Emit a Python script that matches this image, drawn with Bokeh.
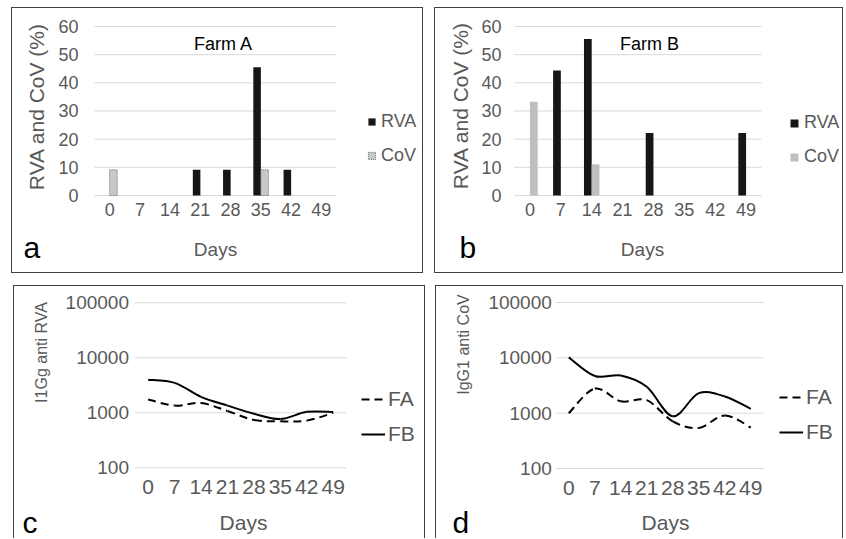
import math
import numpy as np
from bokeh.plotting import figure
from bokeh.layouts import row, column
from bokeh.models import (Range1d, FixedTicker, Legend, LegendItem, Label,
                          ColumnDataSource, NumeralTickFormatter)
from bokeh.embed import file_html
from bokeh.resources import INLINE

# ---------------- data ----------------
days = ["0", "7", "14", "21", "28", "35", "42", "49"]
pct_ticks = [0, 10, 20, 30, 40, 50, 60]
log_ticks = [100, 1000, 10000, 100000]

farmA_rva = [0, 0, 0, 9.1, 9.1, 45.5, 9.1, 0]
farmA_cov = [9.1, 0, 0, 0, 0, 9.1, 0, 0]
farmB_rva = [0, 44.4, 55.6, 0, 22.2, 0, 0, 22.2]
farmB_cov = [33.3, 0, 11.1, 0, 0, 0, 0, 0]

igg_rva_fa = [1750, 1350, 1500, 1080, 740, 700, 720, 1000]
igg_rva_fb = [4000, 3500, 1950, 1350, 960, 770, 1040, 1030]
igg_cov_fa = [1000, 2780, 1640, 1720, 710, 540, 910, 550]
igg_cov_fb = [10200, 4700, 4800, 3000, 880, 2300, 2000, 1200]

FONT = "Liberation Sans"
GREY = "#595959"
GRID = "#D9D9D9"
BORDER = "#404040"


def make_fig(w, h, xr, yr, log, margin, bottom_panel):
    kw = dict(width=w, height=h, output_backend="svg", toolbar_location=None,
              min_border_left=0, min_border_right=0, min_border_top=0,
              min_border_bottom=0, x_range=Range1d(*xr))
    if log:
        kw["y_axis_type"] = "log"
        kw["y_range"] = Range1d(10 ** yr[0], 10 ** yr[1])
    else:
        kw["y_range"] = Range1d(*yr)
    p = figure(**kw)
    p.margin = margin
    if bottom_panel:
        p.styles = {"border-left": f"1px solid {BORDER}",
                    "border-top": f"1px solid {BORDER}",
                    "border-right": f"1px solid {BORDER}",
                    "box-sizing": "border-box"}
    else:
        p.styles = {"border": f"1px solid {BORDER}", "box-sizing": "border-box"}
    p.outline_line_color = None
    p.xgrid.visible = False
    p.ygrid.visible = False
    ticks = log_ticks if log else pct_ticks
    # horizontal gridlines limited to the plot area
    p.segment(x0=[-0.5] * len(ticks), x1=[len(days) - 0.5] * len(ticks),
              y0=ticks, y1=ticks, line_color=GRID, line_width=1)
    p.yaxis.ticker = FixedTicker(ticks=ticks)
    if log:
        p.yaxis.formatter = NumeralTickFormatter(format="0")
    p.yaxis.fixed_location = -0.5
    p.xaxis.fixed_location = ticks[0]
    p.xaxis.ticker = FixedTicker(ticks=list(range(len(days))))
    p.xaxis.major_label_overrides = {i: d for i, d in enumerate(days)}
    for ax in (p.xaxis[0], p.yaxis[0]):
        ax.axis_line_color = None
        ax.major_tick_line_color = None
        ax.minor_tick_line_color = None
        ax.major_tick_out = 0
        ax.major_tick_in = 0
        ax.major_label_text_font = FONT
        ax.major_label_text_color = GREY
    return p


def add_text(p, sx, sy, text, size, color=GREY, angle=0.0, align="center",
             baseline="middle"):
    p.add_layout(Label(x=sx, y=sy, x_units="screen", y_units="screen",
                       text=text, text_font=FONT, text_font_size=size,
                       text_color=color, angle=angle, text_align=align,
                       text_baseline=baseline))


def style_legend(leg, gw, gh, fs, lh, spacing, standoff):
    leg.border_line_color = None
    leg.background_fill_alpha = 0
    leg.padding = 0
    leg.margin = 0
    leg.spacing = spacing
    leg.glyph_width = gw
    leg.glyph_height = gh
    leg.label_standoff = standoff
    leg.label_height = lh
    leg.label_text_font = FONT
    leg.label_text_font_size = fs
    leg.label_text_color = GREY


def bar_panel(w, xr, margin, rva, cov, cov_style, title, title_pos,
              ytitle_pos, letter, letter_pos, days_pos, leg_pos, ystand,
              gsize):
    p = make_fig(w, 266, xr, (-28.05, 66.39), False, margin, False)
    p.xaxis.major_label_text_font_size = "18px"
    p.xaxis.major_label_standoff = 8
    p.yaxis.major_label_text_font_size = "18px"
    p.yaxis.major_label_standoff = ystand

    xr_ = [i - 0.125 for i, v in enumerate(rva) if v > 0]
    yr_ = [v for v in rva if v > 0]
    xc_ = [i + 0.125 for i, v in enumerate(cov) if v > 0]
    yc_ = [v for v in cov if v > 0]
    r1 = p.vbar(x=xr_, top=yr_, bottom=0, width=0.25, fill_color="#161616",
                line_color=None)
    r2 = p.vbar(x=xc_, top=yc_, bottom=0, width=0.25, **cov_style)
    leg = Legend(items=[LegendItem(label="RVA", renderers=[r1]),
                        LegendItem(label="CoV", renderers=[r2])],
                 location=leg_pos)
    style_legend(leg, gsize, gsize, "18px", 20, 13, 5)
    p.add_layout(leg)

    add_text(p, *title_pos, title, "18px", color="black")
    add_text(p, *ytitle_pos, "RVA and CoV (%)", "21px", angle=math.pi / 2)
    add_text(p, *days_pos, "Days", "19px")
    add_text(p, *letter_pos, letter, "30px", color="black", align="left")
    return p


def bezier_parts(vals):
    ly = np.log10(np.array(vals, dtype=float))
    xs = np.arange(len(vals), dtype=float)
    n = len(vals)
    out = {k: [] for k in ("x0", "y0", "x1", "y1", "cx0", "cy0", "cx1", "cy1")}
    for i in range(n - 1):
        pm = i - 1 if i > 0 else i
        pp = i + 2 if i + 2 < n else i + 1
        out["x0"].append(xs[i])
        out["y0"].append(10 ** ly[i])
        out["x1"].append(xs[i + 1])
        out["y1"].append(10 ** ly[i + 1])
        out["cx0"].append(xs[i] + (xs[i + 1] - xs[pm]) / 6)
        out["cy0"].append(10 ** (ly[i] + (ly[i + 1] - ly[pm]) / 6))
        out["cx1"].append(xs[i + 1] - (xs[pp] - xs[i]) / 6)
        out["cy1"].append(10 ** (ly[i + 1] - (ly[pp] - ly[i]) / 6))
    return ColumnDataSource(out)


def line_panel(w, xr, yr, margin, fa, fb, ytitle, ytitle_pos, letter,
               letter_pos, days_pos, leg_pos, ystand):
    p = make_fig(w, 253, xr, yr, True, margin, True)
    p.xaxis.major_label_text_font_size = "21px"
    p.xaxis.major_label_standoff = 12
    p.yaxis.major_label_text_font_size = "19px"
    p.yaxis.major_label_standoff = ystand

    bz = dict(x0="x0", y0="y0", x1="x1", y1="y1", cx0="cx0", cy0="cy0",
              cx1="cx1", cy1="cy1", line_color="black", line_width=2)
    ra = p.bezier(source=bezier_parts(fa), line_dash="8 5", **bz)
    rb = p.bezier(source=bezier_parts(fb), **bz)
    leg = Legend(items=[LegendItem(label="FA", renderers=[ra]),
                        LegendItem(label="FB", renderers=[rb])],
                 location=leg_pos)
    style_legend(leg, 24, 10, "21px", 22, 11, 3)
    p.add_layout(leg)

    add_text(p, *ytitle_pos, ytitle, "16px", angle=math.pi / 2)
    add_text(p, *days_pos, "Days", "21px")
    add_text(p, *letter_pos, letter, "30px", color="black", align="left")
    return p


pa = bar_panel(412, (-3.211, 10.409), (7, 0, 0, 11), farmA_rva, farmA_cov,
               dict(fill_color="#C8C8C8", line_color="#6E6E6E",
                    line_dash="1 1", line_width=1),
               "Farm A", (211, 231), (24, 168), "a", (11, 27), (203, 25),
               (355, 108), 16, 9)
pb = bar_panel(409, (-3.059, 10.188), (7, 0, 0, 11), farmB_rva, farmB_cov,
               dict(fill_color="#BFBFBF", line_color=None),
               "Farm B", (214, 231), (25, 169), "b", (24, 27), (207, 25),
               (354, 107), 13, 10)
pc = line_panel(412, (-5.059, 10.530), (0.696, 5.296), (12, 0, 0, 13),
                igg_rva_fa, igg_rva_fb, "I1Gg anti RVA", (27, 187), "c",
                (8, 17), (229, 17), (347, 93), 6)
pd = line_panel(408, (-5.088, 10.604), (0.717, 5.289), (12, 0, 0, 10),
                igg_cov_fa, igg_cov_fb, "IgG1 anti CoV", (27, 195), "d",
                (16, 17), (229, 17), (343, 95), 4)

layout = column(row(pa, pb, spacing=0), row(pc, pd, spacing=0), spacing=0)

open("out.html", "w").write(file_html(layout, INLINE))
